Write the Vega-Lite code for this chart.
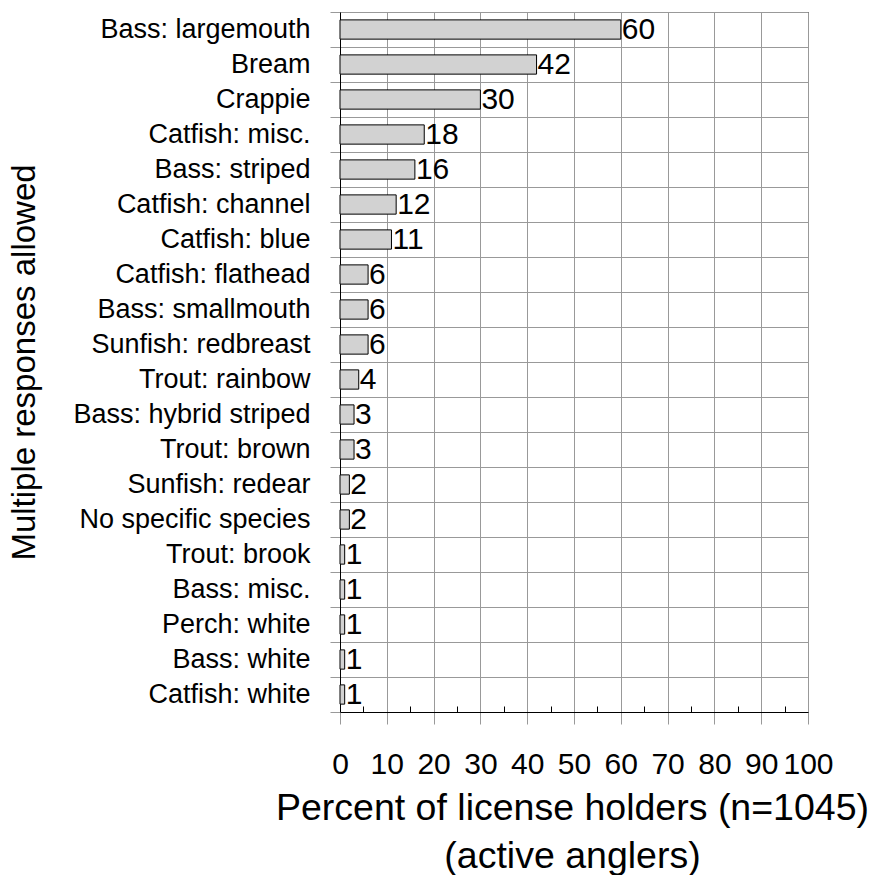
{
  "$schema": "https://vega.github.io/schema/vega-lite/v6.json",
  "autosize": "none",
  "width": 468,
  "height": 700,
  "padding": {"left": 340, "top": 12, "right": 70, "bottom": 163},
  "background": "white",
  "config": {
    "view": {"stroke": "black", "strokeWidth": 1},
    "font": "Liberation Sans"
  },
  "data": {
    "values": [
      {"species": "Bass: largemouth", "pct": 60},
      {"species": "Bream", "pct": 42},
      {"species": "Crappie", "pct": 30},
      {"species": "Catfish: misc.", "pct": 18},
      {"species": "Bass: striped", "pct": 16},
      {"species": "Catfish: channel", "pct": 12},
      {"species": "Catfish: blue", "pct": 11},
      {"species": "Catfish: flathead", "pct": 6},
      {"species": "Bass: smallmouth", "pct": 6},
      {"species": "Sunfish: redbreast", "pct": 6},
      {"species": "Trout: rainbow", "pct": 4},
      {"species": "Bass: hybrid striped", "pct": 3},
      {"species": "Trout: brown", "pct": 3},
      {"species": "Sunfish: redear", "pct": 2},
      {"species": "No specific species", "pct": 2},
      {"species": "Trout: brook", "pct": 1},
      {"species": "Bass: misc.", "pct": 1},
      {"species": "Perch: white", "pct": 1},
      {"species": "Bass: white", "pct": 1},
      {"species": "Catfish: white", "pct": 1}
    ]
  },
  "encoding": {
    "y": {
      "field": "species",
      "type": "nominal",
      "sort": null,
      "scale": {"paddingInner": 0, "paddingOuter": 0},
      "axis": {
        "title": "Multiple responses allowed",
        "titleFont": "Liberation Sans",
        "titleFontSize": 33,
        "titleFontWeight": "normal",
        "titleColor": "black",
        "titleAngle": -90,
        "titleAlign": "center",
        "titleBaseline": "middle",
        "titleX": -316,
        "titleY": 350,
        "labelFont": "Liberation Sans",
        "labelFontSize": 27,
        "labelColor": "black",
        "labelPadding": 20,
        "labelLimit": 400,
        "tickBand": "extent",
        "tickSize": 10,
        "tickColor": "#999999",
        "grid": true,
        "gridColor": "#999999",
        "gridOpacity": 1,
        "gridWidth": 1,
        "domainColor": "black"
      }
    },
    "x": {
      "field": "pct",
      "type": "quantitative",
      "scale": {"domain": [0, 100], "nice": false},
      "axis": {
        "values": [0, 5, 10, 15, 20, 25, 30, 35, 40, 45, 50, 55, 60, 65, 70, 75, 80, 85, 90, 95, 100],
        "labelExpr": "datum.value % 10 == 0 ? datum.label : ''",
        "labelFont": "Liberation Sans",
        "labelFontSize": 30,
        "labelColor": "black",
        "labelFlush": false,
        "labelOverlap": false,
        "labelPadding": 25,
        "tickSize": {"condition": {"test": "datum.value % 10 == 0", "value": 12}, "value": -6},
        "tickColor": {"condition": {"test": "datum.value % 10 == 0", "value": "#999999"}, "value": "black"},
        "grid": true,
        "gridColor": "#999999",
        "gridOpacity": {"condition": {"test": "datum.value % 10 == 0", "value": 1}, "value": 0},
        "domainColor": "black",
        "title": ["Percent of license holders (n=1045)", "(active anglers)"],
        "titleFont": "Liberation Sans",
        "titleFontSize": 37.5,
        "titleFontWeight": "normal",
        "titleColor": "black",
        "titleLineHeight": 48,
        "titleAlign": "center",
        "titleBaseline": "alphabetic",
        "titleX": 232,
        "titleY": 107
      }
    }
  },
  "layer": [
    {
      "mark": {"type": "bar", "fill": "#d2d2d2", "stroke": "black", "strokeWidth": 1, "height": {"band": 0.55}}
    },
    {
      "mark": {"type": "text", "align": "left", "baseline": "middle", "dx": 1, "fontSize": 30, "font": "Liberation Sans", "color": "black"},
      "encoding": {"text": {"field": "pct", "type": "quantitative"}}
    }
  ]
}
